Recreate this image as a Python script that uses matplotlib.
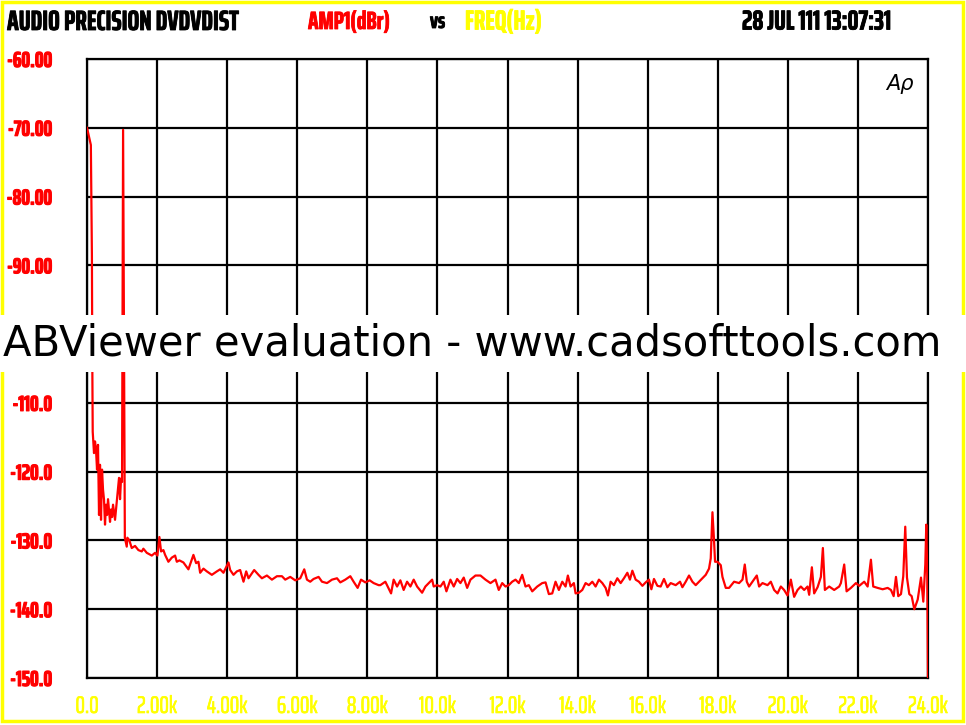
import matplotlib
matplotlib.use("Agg")
import matplotlib.pyplot as plt
from matplotlib import font_manager
from matplotlib.patches import Rectangle
import matplotlib.patheffects as pe

# ---------------- data ----------------
freq_hz = [0, 110, 140, 150, 163, 200, 229, 257, 286, 314, 343, 371, 400, 429, 457,
           486, 514, 543, 571, 600, 657, 686, 714, 743, 800, 857, 914, 943, 971, 1000,
           1030, 1080,
           1134, 1152, 1209, 1277, 1371, 1466, 1563, 1609, 1706, 1849, 1943, 2009, 2066,
           2114, 2180, 2229, 2323, 2420, 2514, 2563, 2637, 2751, 2894, 3037, 3114, 3180,
           3229, 3323, 3420, 3563, 3706, 3800, 3894, 4037, 4086, 4180, 4277, 4371, 4466,
           4543, 4609, 4771, 4894, 4991, 5134, 5277, 5420, 5563, 5657, 5800, 5943, 6086,
           6200, 6277, 6371, 6466, 6609, 6706, 6849, 6991, 7134, 7229, 7371, 7514, 7609,
           7723, 7820, 7943, 8066, 8180, 8323,
           8371, 8514, 8677, 8751, 8849, 8943, 9037, 9134, 9229, 9323, 9420, 9563, 9657,
           9751, 9849, 9894, 9991, 10086, 10180, 10257, 10371, 10466, 10563, 10657, 10751,
           10849, 10943, 11086, 11229, 11371, 11514, 11657, 11751, 11849, 11943, 12037,
           12134, 12229, 12323, 12420, 12514, 12609, 12706, 12849, 12991, 13086, 13180,
           13277, 13371, 13466, 13563, 13657, 13723, 13800, 13894, 13943, 14037, 14134,
           14229, 14323, 14420, 14514, 14609, 14706, 14800, 14866, 14943, 15037, 15134,
           15229, 15323, 15420, 15494,
           15563, 15657, 15751, 15849, 15943, 16037, 16106, 16180, 16277, 16371, 16466,
           16563, 16657, 16800, 16923, 16991, 17086, 17180, 17277, 17371, 17466, 17563,
           17657, 17751, 17800, 17849, 17894, 17923, 17991, 18086, 18134, 18229, 18323,
           18466, 18609, 18706, 18771, 18829, 18894, 18991, 19114, 19180, 19277, 19420,
           19514, 19609, 19706, 19800, 19894, 19991, 20086, 20180, 20277, 20371, 20466,
           20563, 20609, 20686, 20751, 20849, 20943, 21000, 21057, 21180, 21323, 21466,
           21514, 21609, 21677, 21800, 21943, 22037, 22180, 22277, 22371, 22437, 22563,
           22706, 22849, 22943, 23020, 23086, 23151, 23229, 23294, 23351, 23400, 23466,
           23534, 23609, 23706, 23800, 23866, 23923, 23951, 23980, 24000]

level_db = [-70.0, -72.5, -88.5, -103.0, -114.2, -117.3, -115.6, -116.8, -119.7, -116.1,
            -126.3, -119.0, -127.0, -119.7, -122.6, -124.1, -127.7, -124.8, -126.3, -124.0,
            -127.3, -125.5, -126.6, -124.8, -127.0, -124.0, -120.9, -124.0, -121.0, -121.5,
            -70.3, -129.6,
            -130.9, -129.6, -130.0, -131.1, -130.8, -131.4, -131.6, -131.2, -131.8, -132.2,
            -131.8, -132.2, -129.5, -131.6, -131.4, -132.1, -133.1, -132.5, -132.2, -133.1,
            -132.9, -133.2, -134.2, -132.1, -133.3, -133.1, -134.7, -134.1, -134.5, -135.0,
            -134.5, -134.2, -134.7, -133.2, -134.3, -135.0, -134.5, -134.3, -136.0, -134.5,
            -135.5, -134.3, -135.0, -135.5, -135.1, -135.7, -135.2, -135.2, -135.7, -135.3,
            -135.8, -135.5, -134.2, -135.7, -136.0, -135.6, -135.3, -136.0, -136.2, -135.7,
            -135.5, -136.1, -135.7, -135.2, -136.0, -136.9, -135.7, -136.1, -135.8, -136.2,
            -136.5,
            -136.5, -136.0, -137.7, -135.7, -136.7, -135.8, -137.2, -136.0, -136.7, -135.7,
            -136.7, -137.6, -136.7, -136.2, -135.7, -136.7, -136.5, -136.7, -136.0, -137.4,
            -135.7, -136.7, -135.6, -136.2, -135.4, -136.9, -135.7, -135.1, -135.1, -135.7,
            -136.2, -135.7, -137.2, -136.2, -136.7, -136.5, -136.0, -135.7, -136.2, -135.0,
            -136.7, -136.5, -137.4, -136.7, -136.2, -136.1, -137.8, -137.7, -136.0, -137.2,
            -136.0, -136.7, -135.1, -136.7, -136.2, -137.7, -137.6, -137.2, -136.2, -136.5,
            -136.0, -136.7, -135.7, -136.2, -136.9, -138.0, -136.0, -136.5, -135.5, -136.2,
            -135.5, -134.7, -135.7,
            -134.4, -135.7, -136.0, -136.6, -136.1, -135.7, -137.1, -135.6, -136.6, -136.7,
            -135.6, -136.8, -136.2, -136.5, -136.0, -136.8, -136.0, -135.1, -136.0, -136.5,
            -136.0, -135.5, -135.0, -134.1, -132.6, -125.9, -130.0, -133.1, -133.1, -133.6,
            -135.3, -136.9, -136.9, -136.0, -136.2, -135.7, -133.5, -136.0, -136.7, -136.0,
            -135.1, -136.7, -136.2, -136.5, -136.0, -137.2, -137.7, -136.7, -137.2, -138.0,
            -135.7, -138.2, -137.2, -136.7, -137.2, -136.7, -137.9, -133.9, -137.7, -136.8,
            -135.3, -131.1, -137.2, -136.7, -137.2, -136.7, -136.2, -133.5, -137.4, -136.9,
            -136.2, -136.6, -136.0, -136.7, -132.8, -136.7, -136.9, -137.1, -136.9, -137.2,
            -138.1, -135.3, -138.1, -137.8, -135.2, -128.0, -135.4, -137.8, -138.1, -140.0,
            -138.6, -135.4, -138.9, -133.5, -127.7, -135.3, -150.0]

x_ticks = [0, 2000, 4000, 6000, 8000, 10000, 12000, 14000, 16000, 18000, 20000, 22000, 24000]
x_labels = ["0.0", "2.00k", "4.00k", "6.00k", "8.00k", "10.0k", "12.0k", "14.0k",
            "16.0k", "18.0k", "20.0k", "22.0k", "24.0k"]
y_ticks = [-150, -140, -130, -120, -110, -100, -90, -80, -70, -60]
y_labels = ["-150.0", "-140.0", "-130.0", "-120.0", "-110.0", "-100.0",
            "-90.00", "-80.00", "-70.00", "-60.00"]

W, H = 966, 725
fig = plt.figure(figsize=(W / 100, H / 100), dpi=100)
fig.patch.set_facecolor("white")
fig.canvas.draw()
r = fig.canvas.get_renderer()

# ---------------- pick a heavy condensed sans font ----------------
def wnum(w):
    if isinstance(w, (int, float)):
        return w
    return font_manager.weight_dict.get(str(w), 400)


entries = {}
for f in font_manager.fontManager.ttflist:
    cond = ("Narrow" in f.name or "Condensed" in f.name or
            str(f.stretch) in ("condensed", "semi-condensed", "extra-condensed"))
    if not cond:
        continue
    key = (f.name, str(f.stretch))
    entries[key] = max(entries.get(key, 0), wnum(f.weight))

TARGET = 2.25  # px of "-60.00" width per pt of size (cap height ~ 20 px at 20 pt)
best, best_score = ("Liberation Sans", "normal"), 1e9
for (name, st), wmax in entries.items():
    t = fig.text(0, 0, "-60.00", fontsize=20, family=name, fontstretch=st, weight="bold")
    try:
        ratio = t.get_window_extent(r).width / 20.0
    except Exception:
        ratio = 1e9
    t.remove()
    score = abs(ratio - TARGET) + (0 if wmax >= 600 else 0.6)
    if score < best_score:
        best, best_score = (name, st), score
narrow, narrow_stretch = best

ax = fig.add_axes([87 / W, 47 / H, 841 / W, 619 / H])
ax.plot(freq_hz, level_db, color="#ff0000", lw=1.6, zorder=3)
ax.set_xlim(0, 24000)
ax.set_ylim(-150, -60)
ax.set_xticks(x_ticks)
ax.set_xticklabels(x_labels)
ax.set_yticks(y_ticks)
ax.set_yticklabels(y_labels)
ax.grid(True, color="black", lw=1.6, zorder=1)
for s in ax.spines.values():
    s.set_color("black")
    s.set_linewidth(1.6)
ax.tick_params(axis="both", length=0)
ax.tick_params(axis="y", pad=25, labelsize=15, labelcolor="#ff0000")
ax.tick_params(axis="x", pad=11.5, labelsize=15, labelcolor="#ffff00")
for t in ax.get_yticklabels():
    t.set_fontfamily(narrow)
    t.set_fontstretch(narrow_stretch)
    t.set_fontweight("bold")
    t.set_path_effects([pe.withStroke(linewidth=0.8, foreground="#ff0000")])
for t in ax.get_xticklabels():
    t.set_fontfamily(narrow)
    t.set_fontstretch(narrow_stretch)
    t.set_path_effects([pe.withStroke(linewidth=0.5, foreground="#ffff00")])

ax.text(0.983, 0.975, "Aρ", transform=ax.transAxes, ha="right", va="top",
        fontsize=15, style="italic", family="DejaVu Sans", color="black")

# header
hy = 1 - 22 / H
header = [
    (7, "AUDIO PRECISION DVDVDIST", "black", 233),
    (308, "AMP1(dBr)", "#ff0000", 82),
    (430, "vs", "black", 15),
    (465, "FREQ(Hz)", "#ffff00", 77),
    (742, "28 JUL 111 13:07:31", "black", 150),
]
header_texts = []
for x0, s, c, tw in header:
    t = fig.text(x0 / W, hy, s, ha="left", va="center", fontsize=16, family=narrow,
                 fontstretch=narrow_stretch, weight="bold", color=c,
                 path_effects=[pe.withStroke(linewidth=0.6, foreground=c)])
    header_texts.append((t, tw))

# yellow frame around the picture
fig.patches.append(Rectangle((1.5 / W, 4 / H), 961 / W, 719 / H, transform=fig.transFigure,
                             fill=False, edgecolor="#ffff00", lw=2.5, zorder=5))

# watermark band
fig.patches.append(Rectangle((0, (H - 372) / H), 1, 57 / H, transform=fig.transFigure,
                             facecolor="white", edgecolor="none", zorder=10))
wm = fig.text(3 / W, (H - 343) / H, "ABViewer evaluation - www.cadsofttools.com",
              ha="left", va="center", fontsize=30, family="DejaVu Sans",
              color="black", zorder=11)

# fit text widths to the reference
fig.canvas.draw()


def fit(t, target, cap=None):
    w = t.get_window_extent(r).width
    size = t.get_fontsize() * target / w
    if cap is not None:
        size = min(size, cap)
    t.set_fontsize(size)


fit(wm, 940)
for t, tw in header_texts:
    fit(t, tw, cap=21)
yl = [t for t in ax.get_yticklabels() if t.get_text() == "-60.00"][0]
ys = min(21, 15 * 45 / yl.get_window_extent(r).width)
xl = [t for t in ax.get_xticklabels() if t.get_text() == "2.00k"][0]
xs = min(19, 15 * 40 / xl.get_window_extent(r).width)
ax.tick_params(axis="y", labelsize=ys)
ax.tick_params(axis="x", labelsize=xs)

fig.savefig("out.png", dpi=100, facecolor="white")
